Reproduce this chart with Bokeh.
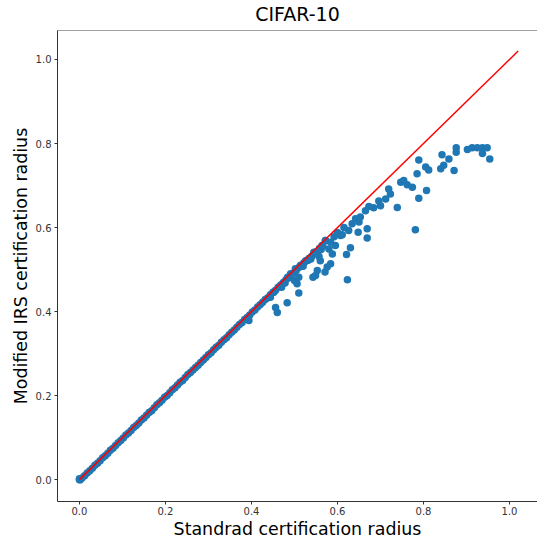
from bokeh.plotting import figure
from bokeh.models import Range1d, LinearAxis, FixedTicker, PrintfTickFormatter
from bokeh.embed import file_html
from bokeh.resources import INLINE

# Tight diagonal band (standard radius vs modified radius)
diag_x = [0.000, 0.000, 0.002, 0.006, 0.012, 0.018, 0.024, 0.030, 0.036, 0.042,
          0.048, 0.054, 0.060, 0.066, 0.072, 0.078, 0.084, 0.090, 0.096, 0.102,
          0.108, 0.114, 0.120, 0.126, 0.132, 0.138, 0.144, 0.150, 0.156, 0.162,
          0.168, 0.174, 0.180, 0.186, 0.192, 0.198, 0.204, 0.210, 0.216, 0.222,
          0.228, 0.234, 0.240, 0.246, 0.252, 0.258, 0.264, 0.270, 0.276, 0.282,
          0.288, 0.294, 0.300, 0.306, 0.312, 0.318, 0.324, 0.330, 0.336, 0.342,
          0.348, 0.354, 0.360, 0.366, 0.372, 0.378, 0.384, 0.390, 0.396, 0.402,
          0.408, 0.414, 0.420, 0.426, 0.432, 0.438, 0.444, 0.450, 0.456, 0.462,
          0.468, 0.474, 0.480, 0.486, 0.492, 0.498, 0.504, 0.510, 0.516, 0.522,
          0.528, 0.534, 0.540, 0.546, 0.552, 0.558, 0.564, 0.572]
diag_y = [0.000, 0.002, 0.000, 0.004, 0.009, 0.016, 0.021, 0.027, 0.034, 0.039,
          0.045, 0.052, 0.057, 0.063, 0.070, 0.075, 0.081, 0.088, 0.093, 0.099,
          0.106, 0.111, 0.117, 0.124, 0.129, 0.135, 0.142, 0.147, 0.153, 0.160,
          0.164, 0.171, 0.178, 0.183, 0.189, 0.196, 0.200, 0.207, 0.214, 0.219,
          0.225, 0.232, 0.236, 0.243, 0.250, 0.255, 0.261, 0.267, 0.272, 0.279,
          0.285, 0.291, 0.297, 0.302, 0.309, 0.315, 0.320, 0.327, 0.333, 0.338,
          0.345, 0.351, 0.356, 0.363, 0.369, 0.374, 0.381, 0.386, 0.392, 0.399,
          0.404, 0.411, 0.416, 0.422, 0.429, 0.433, 0.440, 0.446, 0.451, 0.458,
          0.463, 0.469, 0.476, 0.480, 0.487, 0.492, 0.498, 0.505, 0.509, 0.516,
          0.521, 0.527, 0.532, 0.539, 0.543, 0.550, 0.557, 0.569]

# Scattered points below the diagonal
off_x = [0.394, 0.444, 0.452, 0.456, 0.460, 0.483, 0.484, 0.491, 0.500, 0.502,
         0.506, 0.510, 0.510, 0.514, 0.526, 0.543, 0.545, 0.549, 0.553, 0.557,
         0.560, 0.571, 0.572, 0.576, 0.580, 0.584, 0.584, 0.588, 0.595, 0.607,
         0.611, 0.621, 0.623, 0.626, 0.630, 0.634, 0.642, 0.648, 0.650, 0.653,
         0.665, 0.669, 0.669, 0.673, 0.684, 0.696, 0.700, 0.712, 0.719, 0.723,
         0.739, 0.747, 0.754, 0.762, 0.774, 0.781, 0.785, 0.789, 0.789, 0.805,
         0.807, 0.812, 0.840, 0.843, 0.847, 0.859, 0.871, 0.876, 0.876, 0.902,
         0.913, 0.925, 0.937, 0.937, 0.948, 0.954,
         0.470, 0.478, 0.520, 0.532, 0.538, 0.562, 0.566, 0.592, 0.600, 0.615]
off_y = [0.379, 0.434, 0.446, 0.410, 0.398, 0.421, 0.482, 0.490, 0.474, 0.502,
         0.466, 0.444, 0.482, 0.510, 0.521, 0.482, 0.541, 0.486, 0.498, 0.531,
         0.521, 0.494, 0.569, 0.506, 0.549, 0.565, 0.514, 0.537, 0.557, 0.581,
         0.583, 0.536, 0.476, 0.593, 0.552, 0.609, 0.621, 0.589, 0.613, 0.625,
         0.640, 0.597, 0.575, 0.650, 0.647, 0.663, 0.652, 0.668, 0.692, 0.680,
         0.648, 0.708, 0.712, 0.702, 0.696, 0.595, 0.728, 0.761, 0.670, 0.744,
         0.688, 0.737, 0.740, 0.773, 0.748, 0.763, 0.736, 0.790, 0.779, 0.786,
         0.790, 0.790, 0.790, 0.776, 0.790, 0.763,
         0.458, 0.468, 0.508, 0.522, 0.525, 0.548, 0.556, 0.578, 0.588, 0.600]

line_x = [0.0, 1.02]
line_y = [0.0, 1.02]

ticks = [0.0, 0.2, 0.4, 0.6, 0.8, 1.0]

FONT = "DejaVu Sans"

p = figure(width=537, height=541, output_backend="svg", toolbar_location=None,
           x_range=Range1d(-0.051, 1.065), y_range=Range1d(-0.052, 1.069),
           min_border_left=57, min_border_right=0, min_border_top=30,
           min_border_bottom=40, title="CIFAR-10")
p.outline_line_color = None
p.grid.grid_line_color = None

p.title.align = "center"
p.title.text_font = FONT
p.title.text_font_size = "19px"
p.title.text_font_style = "normal"
p.title.text_color = "#000000"
p.title.standoff = 0

p.scatter(diag_x, diag_y, size=7.5, color="#1f77b4", line_color=None)
p.scatter(off_x, off_y, size=7.5, color="#1f77b4", line_color=None)
p.line(line_x, line_y, line_color="#ff0000", line_width=1.5)

for ax in (p.xaxis[0], p.yaxis[0]):
    ax.ticker = FixedTicker(ticks=ticks)
    ax.formatter = PrintfTickFormatter(format="%.1f")
    ax.minor_tick_line_color = None
    ax.major_tick_in = 0
    ax.major_tick_out = 3
    ax.axis_line_color = "#333333"
    ax.major_tick_line_color = "#333333"
    ax.major_label_text_font = FONT
    ax.major_label_text_font_size = "10px"
    ax.major_label_text_color = "#333333"
    ax.major_label_standoff = 3
    ax.axis_label_text_font = FONT
    ax.axis_label_text_font_size = "17.4px"
    ax.axis_label_text_font_style = "normal"
    ax.axis_label_text_color = "#000000"
    ax.axis_label_standoff = 2

p.xaxis[0].major_label_standoff = 2
p.xaxis[0].axis_label_standoff = 1
p.xaxis[0].axis_label = "Standrad certification radius"
p.yaxis[0].axis_label = "Modified IRS certification radius"
p.yaxis[0].major_label_orientation = "horizontal"

top = LinearAxis(axis_line_color="#a0a0a0", major_tick_line_color=None,
                 minor_tick_line_color=None, major_label_text_font_size="0px")
top.major_label_text_color = None
p.add_layout(top, "above")

open("out.html", "w").write(file_html(p, INLINE))
